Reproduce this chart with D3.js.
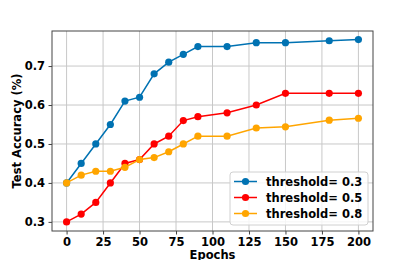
<!DOCTYPE html>
<html>
<head>
<meta charset="utf-8">
<script src="https://cdn.jsdelivr.net/npm/d3@7"></script>
<style>
  body { margin: 0; background: #fff; }
  text { font-family: "DejaVu Sans", sans-serif; font-weight: bold; }
</style>
</head>
<body>
<div id="chart"></div>
<script>
// epochs shared by every run
const epochs = [0, 10, 20, 30, 40, 50, 60, 70, 80, 90, 110, 130, 150, 180, 200];

// test accuracy for each threshold
const acc03 = [0.40, 0.45, 0.50, 0.55, 0.61, 0.62, 0.68, 0.71, 0.73, 0.75, 0.75, 0.76, 0.76, 0.765, 0.768];
const acc05 = [0.30, 0.32, 0.35, 0.40, 0.45, 0.46, 0.50, 0.52, 0.56, 0.57, 0.58, 0.60, 0.63, 0.63, 0.63];
const acc08 = [0.40, 0.42, 0.43, 0.43, 0.44, 0.46, 0.465, 0.48, 0.50, 0.52, 0.52, 0.541, 0.544, 0.561, 0.566];

const seriesNames = ["threshold= 0.3", "threshold= 0.5", "threshold= 0.8"];
const seriesColors = ["#0072b2", "#ff0000", "#ffa500"];

const xTicks = [0, 25, 50, 75, 100, 125, 150, 175, 200];
const yTicks = [0.3, 0.4, 0.5, 0.6, 0.7];

const w = 415, h = 260;
const margin = {left: 52, right: 42, top: 31, bottom: 29};

const svg = d3.select("#chart").append("svg")
    .attr("width", w)
    .attr("height", h);

const x = d3.scaleLinear().domain([-10, 210]).range([margin.left, w - margin.right]);
const y = d3.scaleLinear().domain([0.2766, 0.790]).range([h - margin.bottom, margin.top]);

// grid
const grid = svg.append("g");
grid.selectAll(".gx").data(xTicks).enter().append("line")
    .attr("x1", d => x(d)).attr("x2", d => x(d))
    .attr("y1", margin.top).attr("y2", h - margin.bottom)
    .attr("stroke", "#c8c8c8").attr("stroke-width", 1);
grid.selectAll(".gy").data(yTicks).enter().append("line")
    .attr("x1", margin.left).attr("x2", w - margin.right)
    .attr("y1", d => y(d)).attr("y2", d => y(d))
    .attr("stroke", "#c8c8c8").attr("stroke-width", 1);

// axes
const xAxis = svg.append("g")
    .attr("transform", `translate(0,${h - margin.bottom})`)
    .call(d3.axisBottom(x).tickValues(xTicks).tickSize(3.5).tickPadding(3.5).tickFormat(d3.format("d")));
const yAxis = svg.append("g")
    .attr("transform", `translate(${margin.left},0)`)
    .call(d3.axisLeft(y).tickValues(yTicks).tickSize(3.5).tickPadding(3.5).tickFormat(d3.format(".1f")));
[xAxis, yAxis].forEach(a => {
    a.select(".domain").remove();
    a.selectAll("text").attr("font-size", "11.5px").attr("fill", "#000");
    a.selectAll("line").attr("stroke", "#444");
});

// frame
svg.append("rect")
    .attr("x", margin.left).attr("y", margin.top)
    .attr("width", w - margin.left - margin.right)
    .attr("height", h - margin.top - margin.bottom)
    .attr("fill", "none").attr("stroke", "#444").attr("stroke-width", 1);

// lines
const allSeries = [acc03, acc05, acc08];
const line = d3.line().x(d => x(d[0])).y(d => y(d[1]));

allSeries.forEach((vals, i) => {
    let pts = epochs.map((e, j) => [e, vals[j]]);
    svg.append("path")
        .datum(pts)
        .attr("d", line)
        .attr("fill", "none")
        .attr("stroke", seriesColors[i])
        .attr("stroke-width", 1.5);
    svg.append("g").selectAll("circle")
        .data(pts)
        .enter().append("circle")
        .attr("cx", d => x(d[0]))
        .attr("cy", d => y(d[1]))
        .attr("r", 3.6)
        .attr("fill", seriesColors[i]);
});

// axis titles ("Epochs" is clipped by the bottom edge in the original too)
svg.append("text")
    .attr("x", (margin.left + w - margin.right) / 2)
    .attr("y", 259)
    .attr("text-anchor", "middle")
    .attr("font-size", "11.5px")
    .text("Epochs");
svg.append("text")
    .attr("transform", `translate(21,${(margin.top + h - margin.bottom) / 2}) rotate(-90)`)
    .attr("text-anchor", "middle")
    .attr("font-size", "11.5px")
    .text("Test Accuracy (%)");

// legend
const legend = svg.append("g").attr("transform", "translate(230,172)");
legend.append("rect")
    .attr("width", 138).attr("height", 53)
    .attr("rx", 3)
    .attr("fill", "rgba(255,255,255,0.8)")
    .attr("stroke", "#d0d0d0");
seriesNames.forEach((name, i) => {
    let ly = 9.5 + i * 16;
    legend.append("line")
        .attr("x1", 4).attr("x2", 27)
        .attr("y1", ly).attr("y2", ly)
        .attr("stroke", seriesColors[i]).attr("stroke-width", 1.5);
    legend.append("circle")
        .attr("cx", 15.5).attr("cy", ly).attr("r", 3.6)
        .attr("fill", seriesColors[i]);
    legend.append("text")
        .attr("x", 36).attr("y", ly + 4)
        .attr("font-size", "11.5px")
        .text(name);
});
</script>
</body>
</html>
